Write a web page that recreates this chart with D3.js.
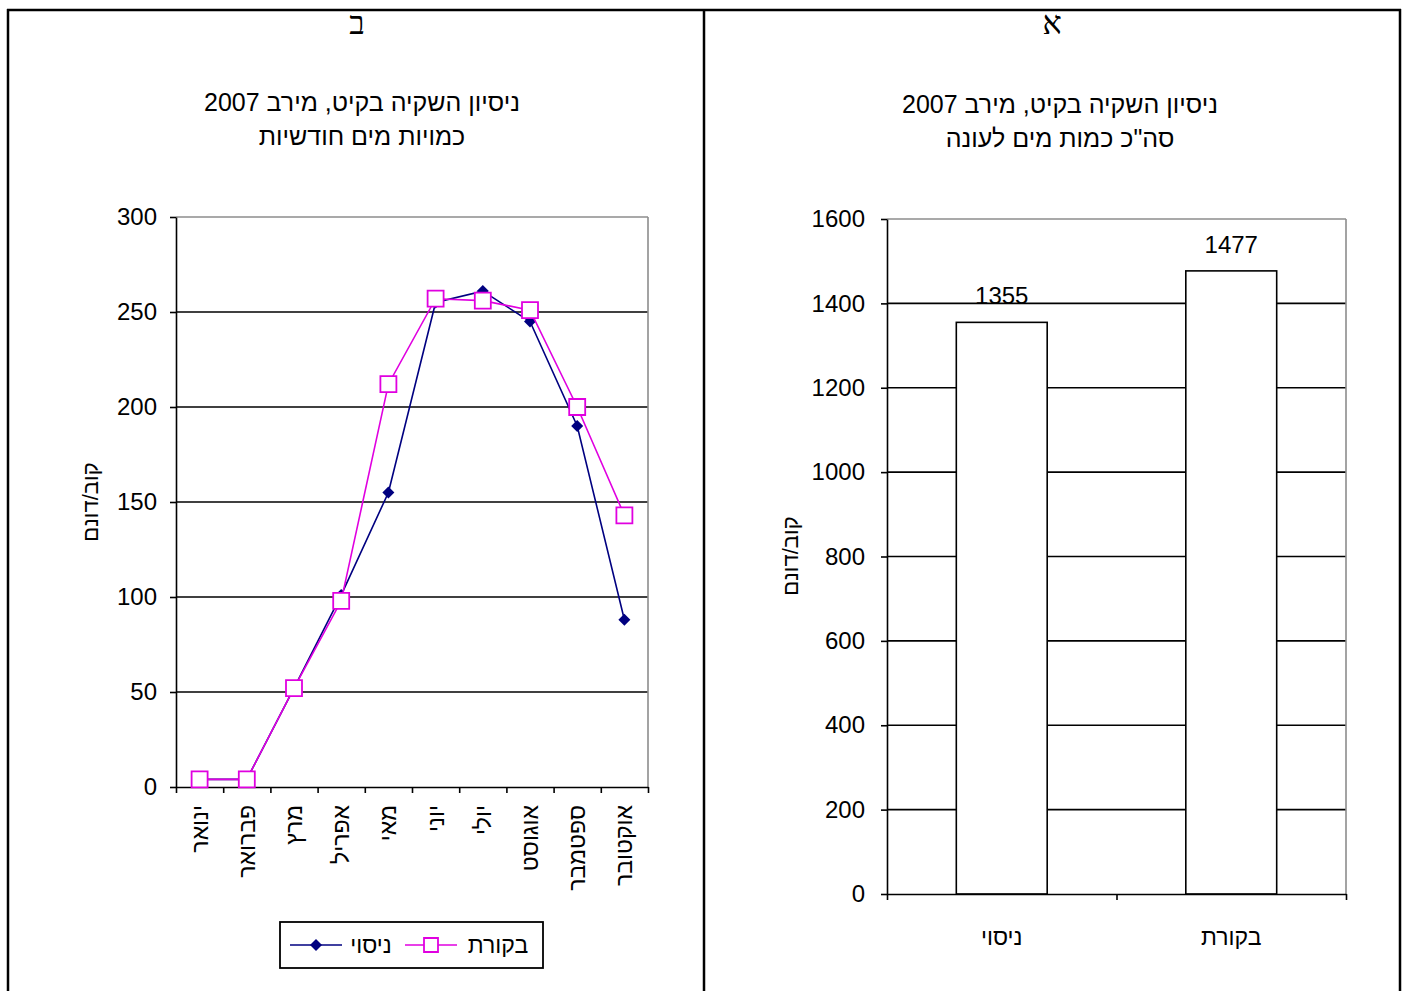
<!DOCTYPE html>
<html>
<head>
<meta charset="utf-8">
<script src="https://cdn.jsdelivr.net/npm/d3@7.9.0/dist/d3.min.js"></script>
<style>
  body { margin: 0; background: #fff; }
  svg text { font-family: "Liberation Sans", Arial, "DejaVu Sans", sans-serif; fill: #000; }
  .head { font-family: "Liberation Serif", "DejaVu Serif", serif; }
</style>
</head>
<body>
<svg id="chart" width="1407" height="991"></svg>
<script>
// monthly chart (ב)
const months = ['ינואר', 'פברואר', 'מרץ', 'אפריל', 'מאי', 'יוני', 'יולי', 'אוגוסט', 'ספטמבר', 'אוקטובר'];
const trialValues = [4, 4, 52, 101, 155, 255, 261, 245, 190, 88];
const controlValues = [4, 4, 52, 98, 212, 257, 256, 251, 200, 143];
const seriesNames = ['ניסוי', 'בקורת'];
const lineTicks = [0, 50, 100, 150, 200, 250, 300];

// season total chart (א)
const totalCategories = ['ניסוי', 'בקורת'];
const totalValues = [1355, 1477];
const barTicks = [0, 200, 400, 600, 800, 1000, 1200, 1400, 1600];

const titleLine1 = 'ניסיון השקיה בקיט, מירב 2007';
const yTitle = 'קוב/דונם';

const navy = '#000080';
const magenta = '#e000e0';

const svg = d3.select('#chart');

// page table borders
const frame = svg.append('g').attr('stroke', '#000').attr('stroke-width', 2.5);
frame.append('line').attr('x1', 7).attr('x2', 1401).attr('y1', 10).attr('y2', 10);
frame.append('line').attr('x1', 8).attr('x2', 8).attr('y1', 9).attr('y2', 991);
frame.append('line').attr('x1', 704).attr('x2', 704).attr('y1', 9).attr('y2', 991);
frame.append('line').attr('x1', 1400).attr('x2', 1400).attr('y1', 9).attr('y2', 991);

svg.append('text').attr('class', 'head').attr('x', 357).attr('y', 34)
  .attr('text-anchor', 'middle').style('font-size', '32px').text('ב');
svg.append('text').attr('class', 'head').attr('x', 1052).attr('y', 34)
  .attr('text-anchor', 'middle').style('font-size', '32px').text('א');

function titles(cx, y, second) {
  svg.append('text').attr('x', cx).attr('y', y).attr('text-anchor', 'middle')
    .style('font-size', '25px').text(titleLine1);
  svg.append('text').attr('x', cx).attr('y', y + 34).attr('text-anchor', 'middle')
    .style('font-size', '25px').text(second);
}

function yAxisTitle(x, y) {
  svg.append('text')
    .attr('transform', `translate(${x},${y}) rotate(-90)`)
    .attr('text-anchor', 'middle').attr('dy', '0.35em')
    .style('font-size', '22px').text(yTitle);
}

function styleAxis(g) {
  g.selectAll('path, line').attr('stroke', '#000').attr('stroke-width', 1.6);
  g.selectAll('text').style('font-size', '24px').attr('fill', '#000');
}

// ---------- left: monthly lines ----------
{
  const left = 176, right = 648, top = 217, bottom = 787;
  titles(362, 111, 'כמויות מים חודשיות');

  const x = d3.scaleBand().domain(months).range([left, right]);
  const xEdge = d3.scaleLinear().domain([0, months.length]).range([left, right]);
  const y = d3.scaleLinear().domain([0, 300]).range([bottom, top]);

  const grid = svg.append('g');
  grid.selectAll('line')
    .data(lineTicks.slice(1))
    .join('line')
    .attr('x1', left).attr('x2', right)
    .attr('y1', (d) => y(d)).attr('y2', (d) => y(d))
    .attr('stroke', (d) => d === 300 ? '#8c8c8c' : '#000')
    .attr('stroke-width', 1.6);
  grid.append('line').attr('x1', right).attr('x2', right).attr('y1', top).attr('y2', bottom)
    .attr('stroke', '#8c8c8c').attr('stroke-width', 1.6);

  svg.append('g')
    .attr('transform', `translate(${left},0)`)
    .call(d3.axisLeft(y).tickValues(lineTicks).tickFormat(d3.format('d')).tickSize(6).tickSizeOuter(0).tickPadding(13))
    .call(styleAxis);

  svg.append('g')
    .attr('transform', `translate(0,${bottom})`)
    .call(d3.axisBottom(xEdge).tickValues(d3.range(months.length + 1)).tickFormat('').tickSize(6).tickSizeOuter(0))
    .call(styleAxis);

  svg.append('g').selectAll('text')
    .data(months)
    .join('text')
    .attr('transform', (d) => `translate(${x(d) + x.bandwidth() / 2},805) rotate(-90)`)
    .attr('text-anchor', 'end').attr('dy', '0.35em')
    .style('font-size', '23px')
    .text((d) => d);

  yAxisTitle(90, 502);

  const line = d3.line()
    .x((d, i) => x(months[i]) + x.bandwidth() / 2)
    .y((d) => y(d));

  svg.append('path').datum(trialValues).attr('d', line)
    .attr('fill', 'none').attr('stroke', navy).attr('stroke-width', 1.6);
  svg.append('g').selectAll('path')
    .data(trialValues)
    .join('path')
    .attr('d', d3.symbol(d3.symbolSquare, 72))
    .attr('transform', (d, i) => `translate(${x(months[i]) + x.bandwidth() / 2},${y(d)}) rotate(45)`)
    .attr('fill', navy);

  svg.append('path').datum(controlValues).attr('d', line)
    .attr('fill', 'none').attr('stroke', magenta).attr('stroke-width', 1.6);
  svg.append('g').selectAll('path')
    .data(controlValues)
    .join('path')
    .attr('d', d3.symbol(d3.symbolSquare, 256))
    .attr('transform', (d, i) => `translate(${x(months[i]) + x.bandwidth() / 2},${y(d)})`)
    .attr('fill', '#fff').attr('stroke', magenta).attr('stroke-width', 1.8);

  // legend
  const lg = svg.append('g');
  lg.append('rect').attr('x', 280).attr('y', 922).attr('width', 263).attr('height', 46)
    .attr('fill', '#fff').attr('stroke', '#000').attr('stroke-width', 1.8);
  const ly = 945;
  lg.append('line').attr('x1', 290).attr('x2', 342).attr('y1', ly).attr('y2', ly)
    .attr('stroke', navy).attr('stroke-width', 1.6);
  lg.append('path').attr('d', d3.symbol(d3.symbolSquare, 72))
    .attr('transform', `translate(316,${ly}) rotate(45)`).attr('fill', navy);
  lg.append('text').attr('x', 371).attr('y', ly + 8).attr('text-anchor', 'middle')
    .style('font-size', '23px').text(seriesNames[0]);
  lg.append('line').attr('x1', 405).attr('x2', 457).attr('y1', ly).attr('y2', ly)
    .attr('stroke', magenta).attr('stroke-width', 1.6);
  lg.append('path').attr('d', d3.symbol(d3.symbolSquare, 196))
    .attr('transform', `translate(431,${ly})`)
    .attr('fill', '#fff').attr('stroke', magenta).attr('stroke-width', 1.8);
  lg.append('text').attr('x', 498).attr('y', ly + 8).attr('text-anchor', 'middle')
    .style('font-size', '23px').text(seriesNames[1]);
}

// ---------- right: season totals ----------
{
  const left = 887, right = 1346, top = 219, bottom = 894;
  titles(1060, 113, 'סה"כ כמות מים לעונה');

  const x = d3.scaleBand().domain(totalCategories).range([left, right]);
  const xEdge = d3.scaleLinear().domain([0, totalCategories.length]).range([left, right]);
  const y = d3.scaleLinear().domain([0, 1600]).range([bottom, top]);
  const barW = x.bandwidth() * 0.396;

  const grid = svg.append('g');
  grid.selectAll('line')
    .data(barTicks.slice(1))
    .join('line')
    .attr('x1', left).attr('x2', right)
    .attr('y1', (d) => y(d)).attr('y2', (d) => y(d))
    .attr('stroke', (d) => d === 1600 ? '#8c8c8c' : '#000')
    .attr('stroke-width', 1.6);
  grid.append('line').attr('x1', right).attr('x2', right).attr('y1', top).attr('y2', bottom)
    .attr('stroke', '#8c8c8c').attr('stroke-width', 1.6);

  svg.append('g').selectAll('rect')
    .data(totalValues)
    .join('rect')
    .attr('x', (d, i) => x(totalCategories[i]) + (x.bandwidth() - barW) / 2)
    .attr('width', barW)
    .attr('y', (d) => y(d))
    .attr('height', (d) => bottom - y(d))
    .attr('fill', '#fff').attr('stroke', '#000').attr('stroke-width', 1.6);

  svg.append('g').selectAll('text')
    .data(totalValues)
    .join('text')
    .attr('x', (d, i) => x(totalCategories[i]) + x.bandwidth() / 2)
    .attr('y', (d) => y(d) - 18)
    .attr('text-anchor', 'middle')
    .style('font-size', '24px')
    .text((d) => d);

  svg.append('g')
    .attr('transform', `translate(${left},0)`)
    .call(d3.axisLeft(y).tickValues(barTicks).tickFormat(d3.format('d')).tickSize(6).tickSizeOuter(0).tickPadding(16))
    .call(styleAxis);

  svg.append('g')
    .attr('transform', `translate(0,${bottom})`)
    .call(d3.axisBottom(xEdge).tickValues(d3.range(totalCategories.length + 1)).tickFormat('').tickSize(6).tickSizeOuter(0))
    .call(styleAxis);

  svg.append('g').selectAll('text')
    .data(totalCategories)
    .join('text')
    .attr('x', (d) => x(d) + x.bandwidth() / 2)
    .attr('y', 945)
    .attr('text-anchor', 'middle')
    .style('font-size', '23px')
    .text((d) => d);

  yAxisTitle(790, 556);
}
</script>
</body>
</html>
